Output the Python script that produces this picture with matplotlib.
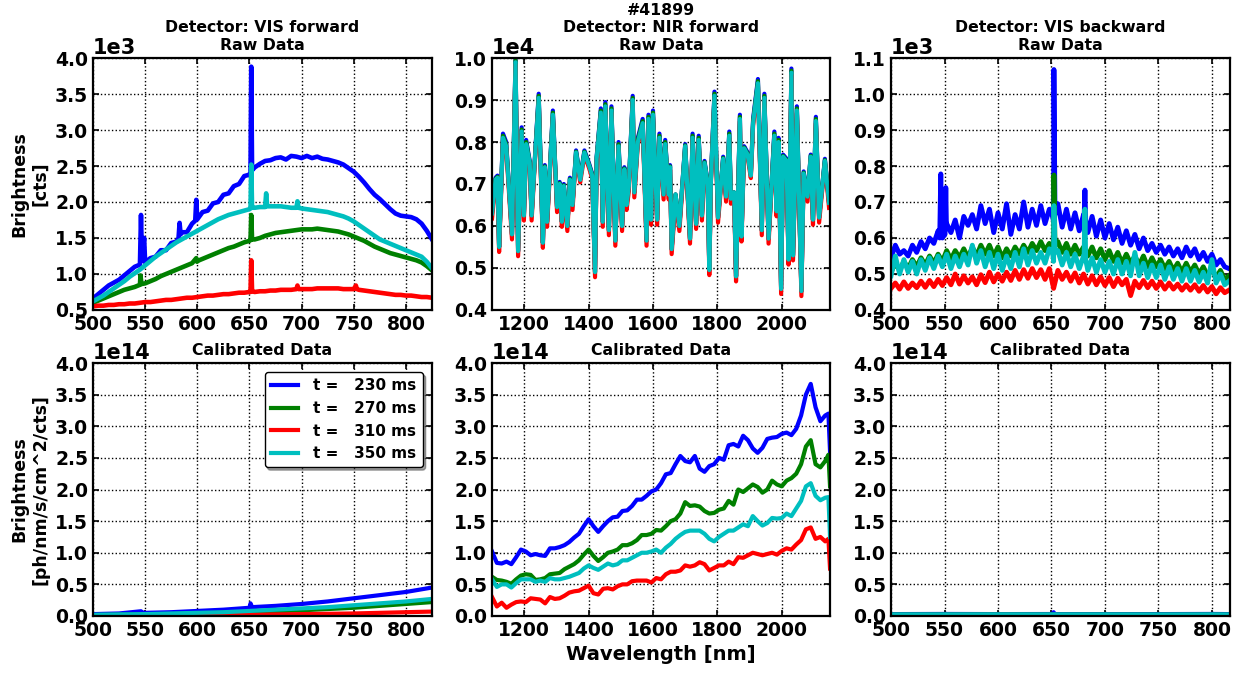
"""Raw and calibrated spectra of shot #41899 for three detectors."""

import matplotlib
import matplotlib.pyplot as plt
import numpy as np
from matplotlib.ticker import MultipleLocator

matplotlib.use("Agg")

TIMES_MS = [230, 270, 310, 350]
COLORS = ["b", "g", "r", "c"]

# ---- VIS forward, raw (1e3 cts), 5 nm grid ----
vf_wl = np.arange(500, 826, 5)
vf_blue = [0.66, 0.72, 0.78, 0.84, 0.88, 0.92, 0.98, 1.04, 1.10, 1.13,
           1.16, 1.22, 1.24, 1.33, 1.33, 1.43, 1.45, 1.58, 1.58, 1.70,
           1.76, 1.86, 1.88, 1.98, 2.00, 2.10, 2.12, 2.22, 2.25, 2.36,
           2.38, 2.48, 2.53, 2.57, 2.58, 2.61, 2.62, 2.59, 2.64, 2.63,
           2.61, 2.64, 2.61, 2.63, 2.60, 2.59, 2.57, 2.55, 2.52, 2.47,
           2.42, 2.35, 2.27, 2.18, 2.10, 2.04, 1.97, 1.90, 1.84, 1.81,
           1.80, 1.79, 1.76, 1.70, 1.60, 1.48]
vf_green = [0.60, 0.63, 0.66, 0.69, 0.72, 0.75, 0.78, 0.80, 0.82, 0.85,
            0.87, 0.90, 0.93, 0.97, 1.00, 1.03, 1.06, 1.09, 1.12, 1.15,
            1.18, 1.21, 1.24, 1.27, 1.30, 1.33, 1.36, 1.38, 1.41, 1.44,
            1.46, 1.48, 1.50, 1.53, 1.55, 1.57, 1.58, 1.59, 1.60, 1.61,
            1.62, 1.62, 1.62, 1.63, 1.62, 1.61, 1.60, 1.59, 1.57, 1.55,
            1.52, 1.49, 1.46, 1.42, 1.38, 1.35, 1.32, 1.29, 1.27, 1.25,
            1.23, 1.21, 1.19, 1.16, 1.11, 1.05]
vf_red = [0.55, 0.56, 0.56, 0.57, 0.57, 0.58, 0.58, 0.59, 0.59, 0.60,
          0.61, 0.61, 0.62, 0.63, 0.64, 0.64, 0.65, 0.66, 0.67, 0.67,
          0.68, 0.69, 0.70, 0.70, 0.71, 0.72, 0.72, 0.73, 0.74, 0.74,
          0.75, 0.75, 0.76, 0.76, 0.77, 0.77, 0.78, 0.78, 0.78, 0.79,
          0.79, 0.79, 0.79, 0.80, 0.80, 0.80, 0.80, 0.80, 0.79, 0.79,
          0.79, 0.78, 0.77, 0.76, 0.75, 0.74, 0.73, 0.72, 0.71, 0.71,
          0.70, 0.70, 0.69, 0.68, 0.68, 0.67]
vf_cyan = [0.62, 0.66, 0.70, 0.75, 0.80, 0.85, 0.90, 0.96, 1.01, 1.06,
           1.12, 1.18, 1.24, 1.29, 1.34, 1.39, 1.44, 1.48, 1.52, 1.56,
           1.60, 1.64, 1.68, 1.72, 1.76, 1.79, 1.82, 1.84, 1.86, 1.88,
           1.90, 1.92, 1.93, 1.93, 1.94, 1.94, 1.94, 1.93, 1.92, 1.92,
           1.91, 1.90, 1.89, 1.88, 1.87, 1.86, 1.84, 1.82, 1.80, 1.77,
           1.73, 1.68, 1.63, 1.58, 1.53, 1.48, 1.45, 1.42, 1.39, 1.36,
           1.33, 1.30, 1.27, 1.24, 1.17, 1.08]
# emission lines (wavelength, value) on top of the grid
vf_blue_lines = ([546, 547, 549, 582, 583, 584, 598, 599, 651, 651.7, 652.5],
                 [1.82, 1.18, 1.50, 1.50, 1.71, 1.55, 1.74, 2.03, 2.41, 3.88, 2.44])
vf_green_lines = ([545.5, 546.5, 599, 599.7, 651, 651.7, 652.5],
                  [0.98, 0.86, 1.22, 1.17, 1.47, 1.82, 1.48])
vf_red_lines = ([651, 651.7, 652.5, 696, 697, 752, 753],
                [0.75, 1.19, 0.76, 0.84, 0.79, 0.84, 0.79])
vf_cyan_lines = ([651, 651.7, 652.5, 666, 667, 696, 697],
                 [1.91, 2.52, 1.92, 2.12, 1.94, 2.01, 1.92])

# ---- NIR forward, raw (1e4 cts) ----
nr_wl = [1100, 1111, 1117, 1122, 1134, 1144, 1162, 1173, 1181, 1192,
         1199, 1206, 1217, 1223, 1231, 1245, 1258, 1264, 1271, 1289,
         1302, 1310, 1317, 1323, 1334, 1342, 1350, 1361, 1374, 1387,
         1401, 1411, 1420, 1425, 1438, 1444, 1452, 1463, 1471, 1483,
         1493, 1504, 1511, 1518, 1525, 1537, 1542, 1553, 1568, 1580,
         1586, 1594, 1600, 1613, 1620, 1633, 1638, 1649, 1653, 1658,
         1670, 1682, 1700, 1715, 1723, 1734, 1742, 1752, 1760, 1770,
         1775, 1780, 1791, 1802, 1818, 1827, 1837, 1842, 1852, 1858,
         1870, 1875, 1883, 1894, 1904, 1911, 1926, 1938, 1946, 1959,
         1977, 1984, 1990, 1998, 2004, 2015, 2021, 2030, 2035, 2047,
         2061, 2068, 2080, 2090, 2097, 2106, 2116, 2134, 2147]
nr_blue = [.635, .715, .72, .55, .82, .80, .58, 1.0, .54, .835,
           .625, .805, .755, .625, .735, .915, .56, .745, .61, .875,
           .645, .705, .61, .70, .60, .715, .65, .78, .715, .78,
           .75, .725, .49, .765, .88, .61, .895, .59, .885, .565,
           .80, .60, .74, .65, .70, .91, .68, .81, .855, .565,
           .865, .615, .875, .615, .82, .675, .805, .675, .745, .545,
           .675, .60, .795, .57, .82, .605, .815, .625, .755, .705,
           .495, .715, .92, .62, .765, .67, .825, .665, .68, .48,
           .865, .575, .79, .775, .725, .855, .95, .59, .915, .57,
           .825, .635, .81, .45, .77, .76, .52, .975, .53, .885,
           .445, .73, .67, .77, .615, .86, .62, .76, .655]
nr_green = [.632, .712, .717, .55, .815, .795, .58, .995, .54, .83,
            .625, .80, .752, .625, .732, .91, .56, .742, .61, .87,
            .645, .702, .61, .697, .60, .712, .65, .777, .712, .777,
            .747, .722, .49, .762, .875, .61, .89, .59, .88, .565,
            .795, .60, .737, .65, .697, .905, .68, .805, .85, .565,
            .86, .615, .87, .615, .815, .675, .80, .675, .742, .545,
            .675, .60, .792, .57, .815, .605, .81, .625, .752, .702,
            .495, .712, .915, .62, .762, .67, .82, .665, .68, .48,
            .86, .575, .787, .772, .722, .85, .945, .59, .91, .57,
            .82, .635, .805, .45, .767, .757, .52, .97, .53, .88,
            .445, .727, .67, .767, .615, .855, .62, .757, .655]
nr_red = [.618, .704, .709, .538, .804, .784, .568, .984, .528, .819,
          .613, .789, .744, .613, .724, .899, .548, .734, .598, .859,
          .633, .694, .598, .683, .588, .704, .638, .769, .704, .769,
          .739, .714, .478, .754, .864, .598, .879, .578, .869, .553,
          .784, .588, .729, .638, .683, .894, .668, .794, .839, .553,
          .849, .603, .859, .603, .804, .663, .789, .663, .734, .533,
          .663, .588, .784, .558, .804, .593, .799, .613, .744, .694,
          .483, .704, .904, .608, .754, .658, .809, .653, .668, .468,
          .849, .563, .779, .764, .714, .839, .934, .578, .899, .558,
          .809, .623, .794, .438, .759, .749, .508, .959, .518, .869,
          .433, .719, .658, .759, .603, .844, .608, .749, .643]
nr_cyan = [.63, .71, .715, .55, .81, .79, .58, .99, .54, .825,
           .625, .795, .75, .625, .73, .905, .56, .74, .61, .865,
           .645, .70, .61, .695, .60, .71, .65, .775, .71, .775,
           .745, .72, .49, .76, .87, .61, .885, .59, .875, .565,
           .79, .60, .735, .65, .695, .90, .68, .80, .845, .565,
           .855, .615, .865, .615, .81, .675, .795, .675, .74, .545,
           .675, .60, .79, .57, .81, .605, .805, .625, .75, .70,
           .495, .71, .91, .62, .76, .67, .815, .665, .68, .48,
           .855, .575, .785, .77, .72, .845, .94, .59, .905, .57,
           .815, .635, .80, .45, .765, .755, .52, .965, .53, .875,
           .445, .725, .67, .765, .615, .85, .62, .755, .655]

# ---- VIS backward, raw (cts), 4 nm grid ----
vb_wl = np.arange(500, 817, 4)
vb_blue = [545, 580, 555, 565, 550, 580, 560, 590, 570, 600,
           585, 620, 600, 640, 615, 650, 600, 660, 635, 665,
           625, 690, 640, 680, 615, 670, 625, 695, 610, 665,
           625, 700, 630, 680, 635, 690, 640, 680, 645, 695,
           630, 680, 625, 670, 620, 665, 615, 660, 605, 650,
           600, 640, 595, 630, 585, 620, 580, 610, 570, 600,
           565, 585, 560, 580, 555, 575, 550, 570, 545, 575,
           550, 570, 540, 560, 535, 555, 525, 540, 520, 515]
vb_green = [505, 530, 510, 535, 515, 540, 520, 545, 525, 550,
            530, 555, 535, 565, 540, 565, 545, 570, 545, 575,
            550, 580, 555, 580, 550, 575, 545, 570, 550, 575,
            555, 580, 560, 585, 565, 590, 565, 585, 570, 590,
            560, 585, 555, 580, 555, 575, 550, 575, 545, 570,
            540, 565, 535, 560, 530, 555, 530, 550, 525, 550,
            520, 545, 520, 540, 515, 535, 510, 530, 505, 530,
            505, 525, 500, 520, 495, 515, 490, 510, 485, 495]
vb_red = [460, 475, 458, 478, 460, 475, 462, 480, 463, 482,
          465, 485, 468, 490, 470, 500, 472, 495, 475, 492,
          470, 498, 476, 505, 478, 500, 480, 505, 482, 510,
          485, 512, 488, 515, 490, 512, 485, 515, 460, 510,
          485, 505, 480, 503, 475, 500, 472, 495, 470, 492,
          468, 490, 465, 488, 470, 485, 440, 480, 462, 482,
          462, 480, 460, 478, 458, 475, 458, 472, 455, 470,
          455, 470, 452, 468, 450, 465, 445, 462, 448, 455]
vb_cyan = [495, 550, 500, 540, 505, 535, 500, 540, 510, 545,
           515, 550, 520, 555, 515, 550, 520, 555, 525, 580,
           530, 565, 520, 560, 515, 555, 510, 550, 515, 560,
           520, 570, 525, 565, 530, 560, 530, 570, 535, 565,
           525, 560, 520, 555, 515, 550, 510, 545, 505, 540,
           505, 535, 500, 540, 500, 535, 495, 560, 495, 530,
           490, 525, 490, 525, 485, 520, 485, 515, 480, 515,
           480, 510, 478, 505, 475, 540, 475, 500, 470, 480]
vb_blue_lines = ([545.5, 546.5, 547.3, 550.5, 551.2, 551.8, 651, 652.3, 653.3, 680.5, 681.3, 682],
                 [600, 778, 610, 610, 740, 630, 660, 1068, 665, 655, 733, 650])
vb_green_lines = ([651, 652.3, 653.3], [575, 775, 580])
vb_red_lines = ([], [])
vb_cyan_lines = ([651, 652.3, 653.3, 680.5, 681.3, 682], [560, 690, 560, 545, 680, 540])

# ---- calibrated (1e14 ph/nm/s/cm^2/cts) ----
cf_wl = np.arange(500, 826, 25)
cf_blue = [0.03, 0.04, 0.05, 0.06, 0.08, 0.10, 0.13, 0.16, 0.19, 0.23, 0.28, 0.33, 0.38, 0.45]
cf_green = [0.015, 0.02, 0.025, 0.03, 0.04, 0.05, 0.06, 0.075, 0.09, 0.11, 0.13, 0.16, 0.19, 0.22]
cf_red = [0.01, 0.01, 0.012, 0.014, 0.016, 0.018, 0.02, 0.025, 0.03, 0.035, 0.04, 0.05, 0.06, 0.07]
cf_cyan = [0.02, 0.025, 0.03, 0.04, 0.05, 0.06, 0.08, 0.10, 0.12, 0.14, 0.17, 0.20, 0.23, 0.27]
cf_blue_lines = ([546, 548, 651, 652.5], [0.075, 0.052, 0.20, 0.14])

nc_wl = list(range(1100, 2136, 15)) + [2145, 2150]
nc_blue = [1.02, 0.84, 0.83, 0.86, 0.82, 0.93, 1.05, 1.02, 0.96, 0.98,
           0.96, 0.95, 1.07, 1.07, 1.09, 1.12, 1.17, 1.24, 1.30, 1.42,
           1.53, 1.42, 1.33, 1.42, 1.50, 1.56, 1.57, 1.66, 1.67, 1.74,
           1.84, 1.84, 1.90, 1.97, 2.00, 2.10, 2.24, 2.26, 2.40, 2.53,
           2.45, 2.43, 2.53, 2.33, 2.28, 2.37, 2.40, 2.50, 2.47, 2.70,
           2.72, 2.68, 2.85, 2.78, 2.65, 2.58, 2.66, 2.80, 2.82, 2.83,
           2.88, 2.90, 2.86, 2.96, 3.17, 3.50, 3.67, 3.30, 3.08, 3.17,
           3.20, 2.60]
nc_green = [0.62, 0.57, 0.56, 0.54, 0.51, 0.58, 0.64, 0.66, 0.65, 0.57,
            0.58, 0.60, 0.66, 0.67, 0.68, 0.74, 0.78, 0.82, 0.88, 0.97,
            1.05, 0.95, 0.87, 0.93, 1.00, 1.02, 1.05, 1.12, 1.12, 1.15,
            1.20, 1.28, 1.28, 1.30, 1.36, 1.35, 1.42, 1.50, 1.53, 1.62,
            1.80, 1.74, 1.75, 1.73, 1.66, 1.62, 1.63, 1.68, 1.70, 1.82,
            1.76, 2.00, 1.96, 2.02, 2.08, 2.04, 1.95, 2.00, 2.14, 2.08,
            2.05, 2.14, 2.18, 2.25, 2.40, 2.68, 2.78, 2.40, 2.35, 2.45,
            2.55, 2.05]
nc_red = [0.30, 0.15, 0.21, 0.13, 0.18, 0.22, 0.23, 0.22, 0.28, 0.27,
          0.26, 0.20, 0.30, 0.27, 0.28, 0.32, 0.37, 0.39, 0.40, 0.44,
          0.48, 0.36, 0.34, 0.43, 0.44, 0.42, 0.47, 0.50, 0.50, 0.55,
          0.56, 0.56, 0.56, 0.53, 0.60, 0.58, 0.66, 0.70, 0.70, 0.72,
          0.80, 0.78, 0.80, 0.85, 0.82, 0.72, 0.76, 0.80, 0.80, 0.86,
          0.82, 0.93, 0.92, 0.96, 1.00, 0.98, 0.96, 0.98, 1.00, 0.97,
          1.03, 1.07, 1.05, 1.13, 1.20, 1.37, 1.40, 1.22, 1.25, 1.18,
          1.22, 0.75]
nc_cyan = [0.58, 0.46, 0.50, 0.50, 0.45, 0.52, 0.58, 0.58, 0.58, 0.54,
           0.56, 0.54, 0.60, 0.58, 0.58, 0.60, 0.62, 0.65, 0.68, 0.75,
           0.80, 0.76, 0.73, 0.78, 0.83, 0.80, 0.82, 0.88, 0.88, 0.92,
           0.96, 1.00, 1.00, 1.02, 1.05, 1.00, 1.08, 1.14, 1.22, 1.28,
           1.33, 1.35, 1.35, 1.35, 1.30, 1.22, 1.18, 1.25, 1.30, 1.35,
           1.35, 1.40, 1.45, 1.42, 1.58, 1.50, 1.43, 1.47, 1.55, 1.54,
           1.55, 1.62, 1.58, 1.70, 1.82, 2.05, 2.10, 1.90, 1.83, 1.87,
           1.88, 1.25]

cb_wl = [500, 550, 600, 650, 700, 750, 800, 817]
cb_blue = [0.030, 0.032, 0.030, 0.031, 0.030, 0.030, 0.032, 0.030]
cb_green = [0.022, 0.022, 0.023, 0.022, 0.022, 0.021, 0.022, 0.021]
cb_red = [0.015, 0.015, 0.016, 0.015, 0.015, 0.015, 0.015, 0.014]
cb_cyan = [0.025, 0.025, 0.026, 0.025, 0.025, 0.024, 0.025, 0.024]
cb_blue_lines = ([651, 652, 653], [0.03, 0.06, 0.03])

NO_LINES = ([], [])


def merge(wl, vals, lines=NO_LINES):
    """Insert narrow emission-line points into a spectrum, sorted by wavelength."""
    x = np.concatenate([np.asarray(wl, float), np.asarray(lines[0], float)])
    y = np.concatenate([np.asarray(vals, float), np.asarray(lines[1], float)])
    order = np.argsort(x, kind="stable")
    return x[order], y[order]


plt.rcParams.update({
    "font.family": "DejaVu Sans",
    "font.weight": "bold",
    "axes.titleweight": "bold",
    "axes.labelweight": "bold",
    "axes.linewidth": 1.6,
    "xtick.direction": "in",
    "ytick.direction": "in",
    "xtick.top": True,
    "ytick.right": True,
    "xtick.labelsize": 13.5,
    "ytick.labelsize": 13.5,
    "axes.titlesize": 11.3,
})

fig = plt.figure(figsize=(12.45, 6.73), dpi=100)

col_left = [0.0747, 0.3952, 0.7157]
col_width = [0.2723, 0.2715, 0.2723]
row_bottom = [0.5394, 0.0847]
row_height = [0.3744, 0.3759]

axes = [[fig.add_axes([col_left[c], row_bottom[r], col_width[c], row_height[r]])
         for c in range(3)] for r in range(2)]

panels = [
    # row, col, curves, unit, xlim, ylim, xstep, ystep, line width
    (0, 0, [merge(vf_wl, vf_blue, vf_blue_lines), merge(vf_wl, vf_green, vf_green_lines),
            merge(vf_wl, vf_red, vf_red_lines), merge(vf_wl, vf_cyan, vf_cyan_lines)],
     1e3, (500, 825), (500, 4000), 50, 500, 3.3),
    (0, 1, [merge(nr_wl, nr_blue), merge(nr_wl, nr_green),
            merge(nr_wl, nr_red), merge(nr_wl, nr_cyan)],
     1e4, (1100, 2150), (4000, 10000), 200, 1000, 3),
    (0, 2, [merge(vb_wl, vb_blue, vb_blue_lines), merge(vb_wl, vb_green, vb_green_lines),
            merge(vb_wl, vb_red, vb_red_lines), merge(vb_wl, vb_cyan, vb_cyan_lines)],
     1, (500, 817), (400, 1100), 50, 100, 3.5),
    (1, 0, [merge(cf_wl, cf_blue, cf_blue_lines), merge(cf_wl, cf_green),
            merge(cf_wl, cf_red), merge(cf_wl, cf_cyan)],
     1e14, (500, 825), (0, 4e14), 50, 0.5e14, 3),
    (1, 1, [merge(nc_wl, nc_blue), merge(nc_wl, nc_green),
            merge(nc_wl, nc_red), merge(nc_wl, nc_cyan)],
     1e14, (1100, 2150), (0, 4e14), 200, 0.5e14, 3),
    (1, 2, [merge(cb_wl, cb_blue, cb_blue_lines), merge(cb_wl, cb_green),
            merge(cb_wl, cb_red), merge(cb_wl, cb_cyan)],
     1e14, (500, 817), (0, 4e14), 50, 0.5e14, 3),
]

for row, col, curves, unit, xlim, ylim, xstep, ystep, lw in panels:
    ax = axes[row][col]
    for (x, y), color, t in zip(curves, COLORS, TIMES_MS):
        ax.plot(x, y * unit, color=color, lw=lw, label="t = %5d ms" % t)
    ax.set_xlim(*xlim)
    ax.set_ylim(*ylim)
    ax.xaxis.set_major_locator(MultipleLocator(xstep))
    ax.yaxis.set_major_locator(MultipleLocator(ystep))
    ax.ticklabel_format(axis="y", style="sci", scilimits=(0, 0))
    ax.yaxis.get_offset_text().set_fontsize(15)
    ax.grid(True, color="k", linestyle=":", linewidth=1)
    ax.tick_params(width=1.2, length=4)

axes[0][0].set_title("Detector: VIS forward\nRaw Data")
axes[0][1].set_title("#41899\nDetector: NIR forward\nRaw Data")
axes[0][2].set_title("Detector: VIS backward\nRaw Data")
for ax in axes[1]:
    ax.set_title("Calibrated Data")

axes[0][0].set_ylabel("Brightness\n[cts]", fontsize=12.5)
axes[1][0].set_ylabel("Brightness\n[ph/nm/s/cm^2/cts]", fontsize=12.5)
axes[1][1].set_xlabel("Wavelength [nm]", fontsize=14)

leg = axes[1][0].legend(loc="upper right", fontsize=11, fancybox=True, shadow=True,
                        handlelength=1.8, handletextpad=1.0, borderaxespad=0.6,
                        framealpha=1)
leg.get_frame().set_edgecolor("k")

fig.savefig("out.png", dpi=100)
